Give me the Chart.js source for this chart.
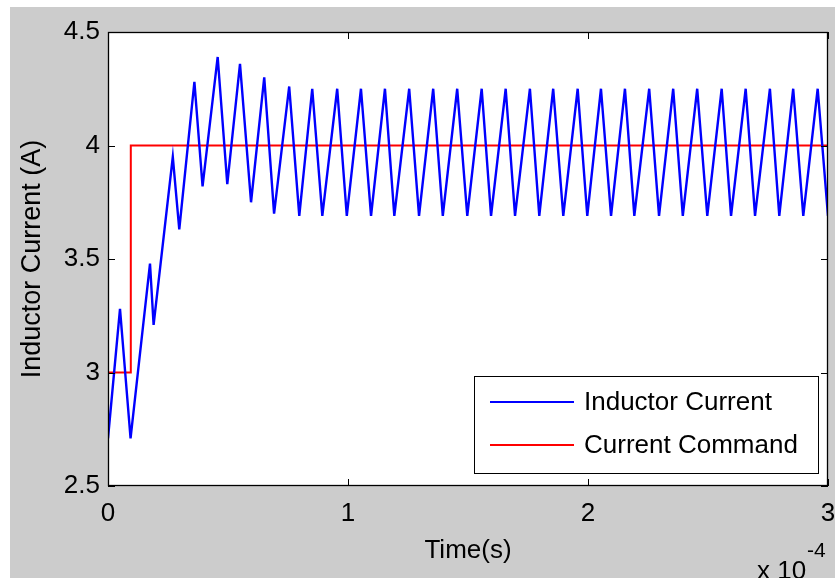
<!DOCTYPE html>
<html>
<head>
<meta charset="utf-8">
<script src="https://cdn.jsdelivr.net/npm/chart.js@4.4.1/dist/chart.umd.min.js"></script>
<style>
  html, body { margin: 0; padding: 0; background: #ffffff; }
  #wrap { width: 835px; height: 578px; position: relative; }
  canvas { display: block; }
</style>
</head>
<body>
<div id="wrap"><canvas id="c" width="835" height="578"></canvas></div>
<script>
// ---- Data (time in units of 1e-4 s) ----
const inductorTime = [
  0, 0.05, 0.094, 0.175, 0.19, 0.27, 0.297, 0.36, 0.394, 0.457,
  0.497, 0.55, 0.596, 0.651, 0.692, 0.755, 0.797, 0.851, 0.893, 0.955,
  0.995, 1.054, 1.096, 1.154, 1.193, 1.255, 1.296, 1.355, 1.395, 1.455,
  1.497, 1.557, 1.596, 1.657, 1.696, 1.758, 1.797, 1.855, 1.897, 1.957,
  1.997, 2.054, 2.096, 2.154, 2.193, 2.255, 2.296, 2.355, 2.395, 2.455,
  2.497, 2.557, 2.596, 2.657, 2.696, 2.758, 2.797, 2.855, 2.897, 2.957,
  3.0
];
const inductorCurrent = [
  2.71, 3.28, 2.71, 3.48, 3.21, 3.95, 3.63, 4.28, 3.82, 4.39,
  3.83, 4.36, 3.75, 4.30, 3.70, 4.26, 3.69, 4.25, 3.69, 4.25,
  3.69, 4.25, 3.69, 4.25, 3.69, 4.25, 3.69, 4.25, 3.69, 4.25,
  3.69, 4.25, 3.69, 4.25, 3.69, 4.25, 3.69, 4.25, 3.69, 4.25,
  3.69, 4.25, 3.69, 4.25, 3.69, 4.25, 3.69, 4.25, 3.69, 4.25,
  3.69, 4.25, 3.69, 4.25, 3.69, 4.25, 3.69, 4.25, 3.69, 4.25,
  3.69
];
const commandTime = [0, 0.095, 0.095, 3.0];
const commandCurrent = [3.0, 3.0, 4.0, 4.0];
const seriesNames = ['Inductor Current', 'Current Command'];
const xAxisTitle = 'Time(s)';
const yAxisTitle = 'Inductor Current (A)';
const xExponentBase = 'x 10';
const xExponent = '-4';

const FONT = '"Liberation Sans", Arial, Helvetica, sans-serif';

function toPoints(xs, ys) { return xs.map((x, i) => ({ x: x, y: ys[i] })); }

const figurePlugin = {
  id: 'figure',
  beforeDraw(chart) {
    const { ctx, chartArea: a } = chart;
    ctx.save();
    ctx.fillStyle = '#ffffff';
    ctx.fillRect(0, 0, chart.width, chart.height);
    ctx.fillStyle = '#cccccc';
    ctx.fillRect(10, 7, chart.width - 10, chart.height - 7);
    ctx.fillStyle = '#ffffff';
    ctx.fillRect(a.left, a.top, a.right - a.left, a.bottom - a.top);
    ctx.restore();
  },
  afterDatasetsDraw(chart) {
    const { ctx, chartArea: a, scales } = chart;
    const xs = scales.x, ys = scales.y;
    ctx.save();
    // box
    ctx.strokeStyle = '#000000';
    ctx.lineWidth = 1.3;
    ctx.strokeRect(a.left + 0.5, a.top + 0.5, a.right - a.left - 1, a.bottom - a.top - 1);
    // inward ticks on all four sides
    const tl = 7;
    ctx.lineWidth = 1;
    ctx.beginPath();
    xs.ticks.forEach(t => {
      const px = Math.round(xs.getPixelForValue(t.value)) + 0.5;
      ctx.moveTo(px, a.bottom); ctx.lineTo(px, a.bottom - tl);
      ctx.moveTo(px, a.top); ctx.lineTo(px, a.top + tl);
    });
    ys.ticks.forEach(t => {
      const py = Math.round(ys.getPixelForValue(t.value)) + 0.5;
      ctx.moveTo(a.left, py); ctx.lineTo(a.left + tl, py);
      ctx.moveTo(a.right, py); ctx.lineTo(a.right - tl, py);
    });
    ctx.stroke();

    // legend (inside the axes, lower right)
    const lx = 474, ly = 376, lw = 344, lh = 97;
    ctx.fillStyle = '#ffffff';
    ctx.fillRect(lx, ly, lw, lh);
    ctx.strokeStyle = '#000000';
    ctx.lineWidth = 1;
    ctx.strokeRect(lx + 0.5, ly + 0.5, lw, lh);
    const rows = [402, 445];
    chart.data.datasets.forEach((ds, i) => {
      ctx.strokeStyle = ds.borderColor;
      ctx.lineWidth = 2;
      ctx.beginPath();
      ctx.moveTo(490, rows[i]); ctx.lineTo(574, rows[i]);
      ctx.stroke();
      ctx.fillStyle = '#000000';
      ctx.font = '26px ' + FONT;
      ctx.textAlign = 'left';
      ctx.textBaseline = 'middle';
      ctx.fillText(ds.label, 584, rows[i] + 1);
    });

    // exponent label of x axis
    ctx.fillStyle = '#000000';
    ctx.font = '26px ' + FONT;
    ctx.textAlign = 'left';
    ctx.textBaseline = 'alphabetic';
    ctx.fillText(xExponentBase, 757, 579);
    ctx.font = '21px ' + FONT;
    ctx.fillText(xExponent, 807, 557);
    ctx.restore();
  }
};

new Chart(document.getElementById('c'), {
  type: 'line',
  data: {
    datasets: [
      {
        label: seriesNames[0],
        data: toPoints(inductorTime, inductorCurrent),
        borderColor: '#0000ff',
        borderWidth: 2.4,
        pointRadius: 0,
        tension: 0,
        fill: false
      },
      {
        label: seriesNames[1],
        data: toPoints(commandTime, commandCurrent),
        borderColor: '#ff0000',
        borderWidth: 2,
        pointRadius: 0,
        tension: 0,
        fill: false
      }
    ]
  },
  options: {
    responsive: false,
    animation: false,
    devicePixelRatio: 1,
    layout: { padding: { left: 0, right: 7, top: 32, bottom: 0 } },
    plugins: { legend: { display: false }, tooltip: { enabled: false } },
    scales: {
      x: {
        type: 'linear',
        min: 0, max: 3,
        grid: { display: false, drawTicks: false },
        border: { display: false },
        ticks: {
          stepSize: 1,
          padding: 12,
          color: '#000000',
          font: { family: FONT, size: 26 },
          maxRotation: 0,
          callback: v => String(v)
        },
        title: {
          display: true,
          text: xAxisTitle,
          color: '#000000',
          font: { family: FONT, size: 26 },
          padding: { top: 0, bottom: 12 }
        },
        afterFit(scale) { scale.height = 92; scale.paddingLeft = 0; scale.paddingRight = 0; }
      },
      y: {
        type: 'linear',
        min: 2.5, max: 4.5,
        grid: { display: false, drawTicks: false },
        border: { display: false },
        ticks: {
          stepSize: 0.5,
          padding: 8,
          color: '#000000',
          font: { family: FONT, size: 26 },
          callback: v => String(v)
        },
        title: {
          display: true,
          text: yAxisTitle,
          color: '#000000',
          font: { family: FONT, size: 27 },
          padding: { top: 16, bottom: 0 }
        },
        afterFit(scale) { scale.width = 108; scale.paddingTop = 0; scale.paddingBottom = 0; }
      }
    }
  },
  plugins: [figurePlugin]
});
</script>
</body>
</html>
